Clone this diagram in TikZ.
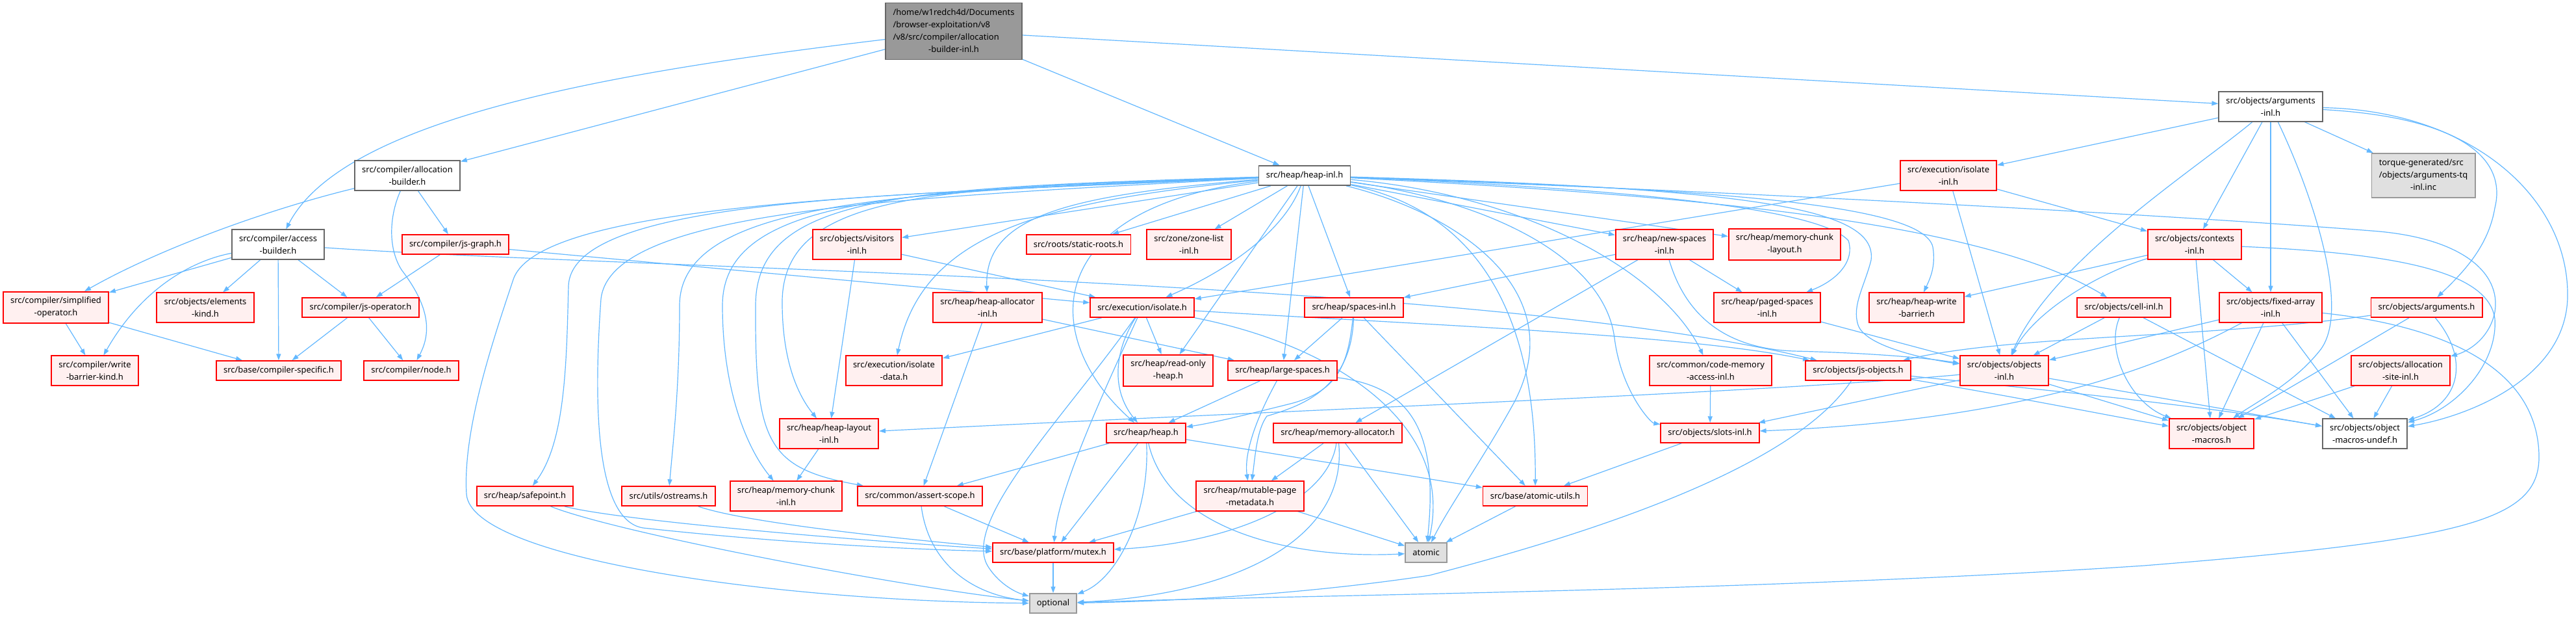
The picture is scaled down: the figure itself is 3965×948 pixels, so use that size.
\documentclass[tikz,border=0pt]{standalone}
\usepackage{fontspec}
\setmainfont{Noto Sans}
\usepackage{tikz}
\usetikzlibrary{arrows.meta,backgrounds}
\definecolor{edgeblue}{HTML}{63B8FF}
\definecolor{incred}{HTML}{FF0000}
\definecolor{incfill}{HTML}{FFF0F0}
\definecolor{docgray}{HTML}{666666}
\definecolor{sysgray}{HTML}{999999}
\definecolor{sysfill}{HTML}{E0E0E0}
\definecolor{mainfill}{HTML}{999999}

\begin{document}
\begin{tikzpicture}[
  x=0.025cm, y=0.025cm,
  font=\fontsize{9.2}{13.5}\selectfont,
  >={Triangle[length=7pt,width=5pt]},
  box/.style={rectangle, line width=1.3pt, inner xsep=8pt, inner ysep=5.8pt, minimum height=21.3pt},
  inc/.style={box, align=center, draw=incred, fill=incfill},
  doc/.style={box, align=center, draw=docgray, fill=white},
  sys/.style={box, align=center, draw=sysgray, fill=sysfill},
  mainfile/.style={box, draw=docgray, fill=mainfill, inner ysep=3.9pt},
  gen/.style={box, draw=sysgray, fill=sysfill, inner ysep=3.9pt},
  dep/.style={draw=edgeblue, line width=0.85pt},
]
\useasboundingbox (0,0) rectangle (3965,-948);

\node[mainfile] (root) at (1468,-48) {\begin{tabular}{@{}l@{}}/home/w1redch4d/Documents\\/browser-exploitation/v8\\/v8/src/compiler/allocation\\\multicolumn{1}{@{}c@{}}{-builder-inl.h}\end{tabular}};
\node[doc] (allocb) at (627,-270) {src/compiler/allocation\\-builder.h};
\node[doc] (accessb) at (428,-376) {src/compiler/access\\-builder.h};
\node[inc] (jsgraph) at (701,-376) {src/compiler/js-graph.h};
\node[inc] (simplified) at (86,-473) {src/compiler/simplified\\-operator.h};
\node[inc] (elemkind) at (316,-473) {src/objects/elements\\-kind.h};
\node[inc] (jsop) at (555,-473) {src/compiler/js-operator.h};
\node[inc] (wbkind) at (146,-570) {src/compiler/write\\-barrier-kind.h};
\node[inc] (compspec) at (429,-570) {src/base/compiler-specific.h};
\node[inc] (nodeh) at (633,-570) {src/compiler/node.h};
\node[inc] (safepoint) at (808,-763) {src/heap/safepoint.h};
\node[inc] (ostreams) at (1029,-763) {src/utils/ostreams.h};
\node[doc] (heapinl) at (2008,-270) {src/heap/heap-inl.h};
\node[inc] (visitors) at (1319,-376) {src/objects/visitors\\-inl.h};
\node[inc] (staticroots) at (1660,-376) {src/roots/static-roots.h};
\node[inc] (zonelist) at (1830,-376) {src/zone/zone-list\\-inl.h};
\node[inc] (heapalloc) at (1520,-473) {src/heap/heap-allocator\\-inl.h};
\node[inc] (isolate) at (1758,-473) {src/execution/isolate.h};
\node[inc] (isodata) at (1376,-570) {src/execution/isolate\\-data.h};
\node[inc] (rohheap) at (1798,-570) {src/heap/read-only\\-heap.h};
\node[inc] (largesp) at (1974,-570) {src/heap/large-spaces.h};
\node[inc] (heaplayout) at (1276,-667) {src/heap/heap-layout\\-inl.h};
\node[inc] (heaph) at (1764,-666) {src/heap/heap.h};
\node[inc] (mcinl) at (1210,-763) {src/heap/memory-chunk\\-inl.h};
\node[inc] (assertscope) at (1416,-763) {src/common/assert-scope.h};
\node[inc] (mutable) at (1924,-763) {src/heap/mutable-page\\-metadata.h};
\node[inc] (memalloc) at (2059,-666) {src/heap/memory-allocator.h};
\node[inc] (mutex) at (1621,-850) {src/base/platform/mutex.h};
\node[sys] (optional) at (1621,-928) {optional};
\node[inc] (newsp) at (2562,-376) {src/heap/new-spaces\\-inl.h};
\node[inc] (mclayout) at (2747,-376) {src/heap/memory-chunk\\-layout.h};
\node[inc] (spacesinl) at (2084,-473) {src/heap/spaces-inl.h};
\node[inc] (pagedsp) at (2720,-473) {src/heap/paged-spaces\\-inl.h};
\node[inc] (wbarrier) at (2950,-473) {src/heap/heap-write\\-barrier.h};
\node[inc] (isoinl) at (2999,-270) {src/execution/isolate\\-inl.h};
\node[doc] (argsinl) at (3495,-164) {src/objects/arguments\\-inl.h};
\node[gen] (tq) at (3730,-270) {\begin{tabular}{@{}l@{}}torque-generated/src\\/objects/arguments-tq\\\multicolumn{1}{@{}c@{}}{-inl.inc}\end{tabular}};
\node[inc] (contexts) at (3378,-376) {src/objects/contexts\\-inl.h};
\node[inc] (cellinl) at (3269,-473) {src/objects/cell-inl.h};
\node[inc] (fixedarr) at (3495,-473) {src/objects/fixed-array\\-inl.h};
\node[inc] (argsh) at (3735,-473) {src/objects/arguments.h};
\node[inc] (objinl) at (3085,-570) {src/objects/objects\\-inl.h};
\node[inc] (allocsite) at (3695,-570) {src/objects/allocation\\-site-inl.h};
\node[inc] (macros) at (3404,-667) {src/objects/object\\-macros.h};
\node[doc] (undef) at (3640,-667) {src/objects/object\\-macros-undef.h};
\node[inc] (codemem) at (2633,-570) {src/common/code-memory\\-access-inl.h};
\node[inc] (jsobj) at (2860,-570) {src/objects/js-objects.h};
\node[inc] (slots) at (2632,-666) {src/objects/slots-inl.h};
\node[inc] (atomicutils) at (2363,-763) {src/base/atomic-utils.h};
\node[sys] (atomic) at (2195,-850) {atomic};

\begin{scope}[on background layer]
\fill[white] (0,0) rectangle (3965,-948);
\draw[->, dep] (root) -- (allocb);
\draw[->, dep] (root) .. controls (950,-110) and (530,-180) .. (accessb);
\draw[->, dep] (root) -- (heapinl);
\draw[->, dep] (root) -- (argsinl);
\draw[->, dep] (allocb) .. controls (420,-320) and (250,-380) .. (simplified);
\draw[->, dep] (allocb) -- (jsgraph);
\draw[->, dep] (allocb) .. controls (600,-330) and (596,-380) .. (618,-415) .. controls (660,-470) and (665,-510) .. (nodeh);
\draw[->, dep] (accessb) -- (simplified);
\draw[->, dep] (accessb) .. controls (300,-400) and (220,-440) .. (wbkind);
\draw[->, dep] (accessb) -- (elemkind);
\draw[->, dep] (accessb) -- (compspec);
\draw[->, dep] (accessb) -- (jsop);
\draw[->, dep] (accessb) .. controls (1000,-415) and (2300,-430) .. (jsobj);
\draw[->, dep] (jsgraph) -- (jsop);
\draw[->, dep] (jsgraph) -- (isolate);
\draw[->, dep] (simplified) -- (wbkind);
\draw[->, dep] (simplified) -- (compspec);
\draw[->, dep] (jsop) -- (compspec);
\draw[->, dep] (jsop) -- (nodeh);
\draw[->, dep] (heapinl) -- (visitors);
\draw[->, dep] (heapinl) -- (staticroots);
\draw[->, dep] (heapinl) -- (zonelist);
\draw[->, dep] (heapinl) .. controls (1650,-300) and (1515,-330) .. (heapalloc);
\draw[->, dep] (heapinl) .. controls (1975,-360) and (1880,-420) .. (isolate);
\draw[->, dep] (heapinl) .. controls (1600,-310) and (1420,-360) .. (isodata);
\draw[->, dep] (heapinl) -- (rohheap);
\draw[->, dep] (heapinl) -- (largesp);
\draw[->, dep] (heapinl) .. controls (1450,-290) and (1200,-290) .. (1204,-470) .. controls (1205,-560) and (1230,-610) .. (heaplayout);
\draw[->, dep] (heapinl) .. controls (1600,-320) and (1600,-520) .. (heaph);
\draw[->, dep] (heapinl) .. controls (1400,-292) and (1112,-300) .. (1112,-470) .. controls (1112,-600) and (1150,-690) .. (mcinl);
\draw[->, dep] (heapinl) .. controls (1400,-289) and (1163,-296) .. (1163,-470) .. controls (1162,-680) and (1180,-720) .. (assertscope);
\draw[->, dep] (heapinl) .. controls (1400,-295) and (1046,-305) .. (1046,-470) .. controls (1046,-600) and (1035,-690) .. (ostreams);
\draw[->, dep] (heapinl) .. controls (1400,-300) and (880,-300) .. (875,-440) .. controls (872,-560) and (870,-680) .. (safepoint);
\draw[->, dep] (heapinl) .. controls (1400,-304) and (940,-320) .. (925,-460) .. controls (915,-600) and (912,-800) .. (990,-812) .. controls (1200,-835) and (1400,-845) .. (mutex);
\draw[->, dep] (heapinl) .. controls (1400,-298) and (830,-310) .. (790,-430) .. controls (760,-520) and (712,-660) .. (718,-760) .. controls (725,-860) and (1200,-925) .. (optional);
\draw[->, dep] (heapinl) -- (newsp);
\draw[->, dep] (heapinl) -- (mclayout);
\draw[->, dep] (heapinl) -- (spacesinl);
\draw[->, dep] (heapinl) .. controls (2500,-290) and (2800,-320) .. (2845,-370) .. controls (2855,-400) and (2830,-430) .. (pagedsp);
\draw[->, dep] (heapinl) .. controls (2600,-290) and (2960,-310) .. (2975,-380) .. controls (2980,-410) and (2970,-430) .. (wbarrier);
\draw[->, dep] (heapinl) .. controls (2600,-300) and (3050,-340) .. (cellinl);
\draw[->, dep] (heapinl) .. controls (2800,-300) and (3400,-335) .. (3650,-355) .. controls (3790,-365) and (3850,-420) .. (3840,-480) .. controls (3832,-520) and (3800,-540) .. (allocsite);
\draw[->, dep] (heapinl) .. controls (2700,-290) and (2890,-320) .. (2880,-400) .. controls (2870,-440) and (2850,-470) .. (2860,-500) .. controls (2870,-530) and (2950,-550) .. (objinl);
\draw[->, dep] (heapinl) .. controls (2350,-300) and (2560,-420) .. (codemem);
\draw[->, dep] (heapinl) .. controls (2300,-310) and (2470,-400) .. (2485,-520) .. controls (2495,-600) and (2540,-650) .. (slots);
\draw[->, dep] (heapinl) .. controls (2250,-320) and (2365,-450) .. (atomicutils);
\draw[->, dep] (heapinl) .. controls (2250,-330) and (2420,-450) .. (2330,-620) .. controls (2280,-710) and (2230,-780) .. (atomic);
\draw[->, dep] (visitors) -- (heaplayout);
\draw[->, dep] (visitors) -- (isolate);
\draw[->, dep] (heapalloc) -- (assertscope);
\draw[->, dep] (heapalloc) -- (largesp);
\draw[->, dep] (isolate) -- (isodata);
\draw[->, dep] (isolate) -- (rohheap);
\draw[->, dep] (isolate) .. controls (1715,-540) and (1710,-600) .. (heaph);
\draw[->, dep] (isolate) .. controls (1700,-600) and (1630,-750) .. (mutex);
\draw[->, dep] (isolate) .. controls (1640,-640) and (1480,-800) .. (1520,-870) .. controls (1535,-895) and (1560,-910) .. (optional);
\draw[->, dep] (isolate) .. controls (2200,-500) and (2600,-515) .. (jsobj);
\draw[->, dep] (isolate) .. controls (2050,-530) and (2240,-650) .. (atomic);
\draw[->, dep] (heaplayout) -- (mcinl);
\draw[->, dep] (largesp) -- (heaph);
\draw[->, dep] (largesp) .. controls (1930,-650) and (1915,-700) .. (mutable);
\draw[->, dep] (largesp) .. controls (2170,-595) and (2215,-660) .. (atomic);
\draw[->, dep] (spacesinl) -- (largesp);
\draw[->, dep] (spacesinl) .. controls (2075,-560) and (2060,-600) .. (1990,-620) .. controls (1930,-635) and (1870,-650) .. (heaph);
\draw[->, dep] (spacesinl) -- (atomicutils);
\draw[->, dep] (spacesinl) .. controls (2080,-600) and (2000,-625) .. (1950,-640) .. controls (1935,-660) and (1932,-700) .. (mutable);
\draw[->, dep] (newsp) -- (spacesinl);
\draw[->, dep] (newsp) -- (memalloc);
\draw[->, dep] (newsp) -- (pagedsp);
\draw[->, dep] (newsp) .. controls (2590,-470) and (2640,-535) .. (2760,-540) .. controls (2850,-542) and (2950,-548) .. (objinl);
\draw[->, dep] (memalloc) -- (mutable);
\draw[->, dep] (memalloc) .. controls (2045,-770) and (1900,-835) .. (mutex);
\draw[->, dep] (memalloc) .. controls (2075,-830) and (1900,-915) .. (optional);
\draw[->, dep] (memalloc) -- (atomic);
\draw[->, dep] (heaph) -- (assertscope);
\draw[->, dep] (heaph) -- (mutex);
\draw[->, dep] (heaph) .. controls (1770,-790) and (1720,-890) .. (optional);
\draw[->, dep] (heaph) .. controls (1800,-820) and (2000,-860) .. (atomic);
\draw[->, dep] (heaph) -- (atomicutils);
\draw[->, dep] (mutable) -- (mutex);
\draw[->, dep] (mutable) -- (atomic);
\draw[->, dep] (assertscope) -- (mutex);
\draw[->, dep] (assertscope) .. controls (1430,-870) and (1500,-915) .. (optional);
\draw[->, dep] (safepoint) .. controls (950,-800) and (1300,-830) .. (mutex);
\draw[->, dep] (safepoint) .. controls (950,-820) and (1400,-905) .. (optional);
\draw[->, dep] (ostreams) .. controls (1150,-805) and (1400,-830) .. (mutex);
\draw[->, dep] (mutex) -- (optional);
\draw[->, dep] (codemem) -- (slots);
\draw[->, dep] (slots) -- (atomicutils);
\draw[->, dep] (atomicutils) -- (atomic);
\draw[->, dep] (pagedsp) -- (objinl);
\draw[->, dep] (isoinl) -- (isolate);
\draw[->, dep] (isoinl) -- (contexts);
\draw[->, dep] (isoinl) -- (objinl);
\draw[->, dep] (argsinl) -- (isoinl);
\draw[->, dep] (argsinl) -- (contexts);
\draw[->, dep] (argsinl) -- (fixedarr);
\draw[->, dep] (argsinl) -- (tq);
\draw[->, dep] (argsinl) .. controls (3380,-260) and (3160,-400) .. (objinl);
\draw[->, dep] (argsinl) .. controls (3560,-300) and (3620,-480) .. (3570,-540) .. controls (3530,-590) and (3470,-620) .. (macros);
\draw[->, dep] (argsinl) .. controls (3780,-180) and (3860,-240) .. (3840,-320) .. controls (3830,-380) and (3790,-420) .. (argsh);
\draw[->, dep] (argsinl) .. controls (3800,-170) and (3950,-300) .. (3952,-450) .. controls (3955,-580) and (3800,-640) .. (undef);
\draw[->, dep] (contexts) -- (wbarrier);
\draw[->, dep] (contexts) .. controls (3230,-420) and (3130,-480) .. (objinl);
\draw[->, dep] (contexts) -- (macros);
\draw[->, dep] (contexts) -- (fixedarr);
\draw[->, dep] (contexts) .. controls (3700,-390) and (3830,-420) .. (3840,-490) .. controls (3845,-560) and (3780,-630) .. (undef);
\draw[->, dep] (cellinl) -- (objinl);
\draw[->, dep] (cellinl) .. controls (3240,-540) and (3280,-620) .. (macros);
\draw[->, dep] (cellinl) -- (undef);
\draw[->, dep] (fixedarr) -- (objinl);
\draw[->, dep] (fixedarr) .. controls (3350,-550) and (3150,-645) .. (slots);
\draw[->, dep] (fixedarr) -- (macros);
\draw[->, dep] (fixedarr) -- (undef);
\draw[->, dep] (fixedarr) .. controls (3750,-500) and (3905,-560) .. (3908,-700) .. controls (3910,-800) and (3800,-830) .. (3300,-870) .. controls (2700,-910) and (2000,-915) .. (optional);
\draw[->, dep] (argsh) .. controls (3400,-520) and (3100,-515) .. (jsobj);
\draw[->, dep] (argsh) -- (macros);
\draw[->, dep] (argsh) .. controls (3800,-550) and (3790,-620) .. (undef);
\draw[->, dep] (allocsite) -- (macros);
\draw[->, dep] (allocsite) -- (undef);
\draw[->, dep] (objinl) -- (macros);
\draw[->, dep] (objinl) -- (undef);
\draw[->, dep] (objinl) -- (slots);
\draw[->, dep] (objinl) .. controls (2700,-605) and (2000,-630) .. (heaplayout);
\draw[->, dep] (jsobj) .. controls (3100,-610) and (3250,-640) .. (macros);
\draw[->, dep] (jsobj) .. controls (3150,-600) and (3400,-625) .. (undef);
\draw[->, dep] (jsobj) .. controls (2760,-720) and (2450,-820) .. (2200,-885) .. controls (2000,-915) and (1800,-925) .. (optional);
\end{scope}
\end{tikzpicture}
\end{document}
